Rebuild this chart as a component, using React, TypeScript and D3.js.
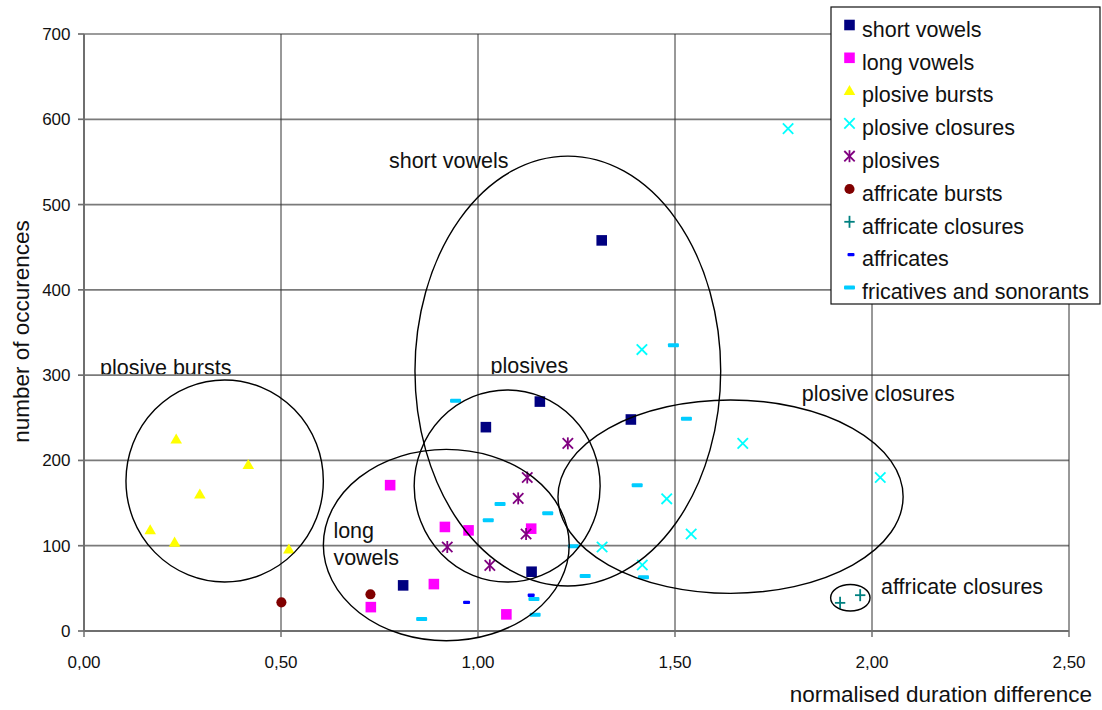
// Scatter of normalised duration difference vs number of occurences, with hand-drawn group ellipses
import React from "react"
import * as d3 from "d3"

const shortVowels = [[1.314, 458], [1.157, 269], [1.02, 239], [1.388, 248], [1.136, 69.5], [0.81, 53.5]]
const longVowels = [[0.777, 171], [0.916, 122], [0.976, 118], [1.135, 120], [0.888, 55], [0.728, 28], [1.072, 19.5]]
const plosiveBursts = [[0.234, 225], [0.417, 195], [0.294, 160.5], [0.168, 118.5], [0.23, 104], [0.52, 96]]
const plosiveClosures = [[1.787, 589], [1.416, 330], [1.672, 220], [2.021, 180], [1.479, 155], [1.541, 113.7], [1.315, 98.5], [1.417, 77.4]]
const plosives = [[1.228, 220], [1.125, 180], [1.102, 155.5], [1.122, 113.7], [0.922, 98.5], [1.03, 77]]
const affricateBursts = [[0.501, 33.6], [0.727, 43]]
const affricateClosures = [[1.919, 33], [1.97, 42]]
const affricates = [[0.971, 33.6], [1.135, 42]]
const fricativesSonorants = [
  [0.943, 270], [1.496, 335], [1.529, 249], [1.056, 149], [1.177, 138], [1.026, 130], [1.404, 171],
  [1.242, 99.3], [1.272, 64.5], [1.42, 63], [1.142, 37.5], [0.857, 14], [1.145, 19],
]

const xTicks = [0, 0.5, 1, 1.5, 2, 2.5]
const yTicks = [0, 100, 200, 300, 400, 500, 600, 700]

// group ellipses: centre and radii in data units
const groupEllipses = [
  { name: "short vowels", cx: 1.228, cy: 304.8, rx: 0.388, ry: 252 },
  { name: "plosives", cx: 1.074, cy: 170, rx: 0.236, ry: 112.6 },
  { name: "long vowels", cx: 0.9195, cy: 100.8, rx: 0.312, ry: 112.2 },
  { name: "plosive closures", cx: 1.641, cy: 157.5, rx: 0.438, ry: 113.4 },
  { name: "plosive bursts", cx: 0.357, cy: 175.9, rx: 0.2505, ry: 118.4 },
  { name: "affricate closures", cx: 1.945, cy: 39, rx: 0.05, ry: 15.6 },
]

const groupLabels = [
  { text: "plosive bursts", x: 0.0406, y: 300, clip: true },
  { text: "short vowels", x: 0.774, y: 542.8, clip: false },
  { text: "plosives", x: 1.032, y: 302, clip: true },
  { text: "long", x: 0.633, y: 109.6, clip: false },
  { text: "vowels", x: 0.633, y: 77.4, clip: false },
  { text: "plosive closures", x: 1.8216, y: 269.6, clip: false },
  { text: "affricate closures", x: 2.0228, y: 43, clip: false },
]

const series = [
  { name: "short vowels", data: shortVowels, color: "#000080", shape: "square" },
  { name: "long vowels", data: longVowels, color: "#FF00FF", shape: "square" },
  { name: "plosive bursts", data: plosiveBursts, color: "#FFFF00", shape: "triangle" },
  { name: "plosive closures", data: plosiveClosures, color: "#00FFFF", shape: "x" },
  { name: "plosives", data: plosives, color: "#800080", shape: "star" },
  { name: "affricate bursts", data: affricateBursts, color: "#800000", shape: "circle" },
  { name: "affricate closures", data: affricateClosures, color: "#008080", shape: "plus" },
  { name: "affricates", data: affricates, color: "#0000FF", shape: "smalldash" },
  { name: "fricatives and sonorants", data: fricativesSonorants, color: "#00CCFF", shape: "dash" },
]

const W = 1102
const H = 710
const font = "'Liberation Sans', Arial, sans-serif"

const x = d3.scaleLinear().domain([0, 2.5]).range([84, 1069])
const y = d3.scaleLinear().domain([0, 700]).range([631, 34])
const fmt = (v: number) => d3.format(".2f")(v).replace(".", ",")

const squarePath = d3.symbol(d3.symbolSquare, 112)()
const trianglePath = d3.symbol(d3.symbolTriangle, 58)()
const circlePath = d3.symbol(d3.symbolCircle, 80)()

function Marker({ shape, color, px, py }: { shape: string; color: string; px: number; py: number }) {
  const t = `translate(${px},${py})`
  if (shape === "square") return <path d={squarePath!} transform={t} fill={color} />
  if (shape === "triangle") return <path d={trianglePath!} transform={`translate(${px},${py + 1})`} fill={color} />
  if (shape === "circle") return <path d={circlePath!} transform={t} fill={color} />
  if (shape === "dash") return <rect x={px - 5.5} y={py - 2} width={11} height={4} rx={1} fill={color} />
  if (shape === "smalldash") return <rect x={px - 3.5} y={py - 1.7} width={7} height={3.4} rx={1} fill={color} />
  const r = 5.2
  return (
    <g transform={t} stroke={color} strokeWidth={1.8} fill="none">
      {(shape === "x" || shape === "star") && (
        <>
          <line x1={-r} y1={-r} x2={r} y2={r} />
          <line x1={-r} y1={r} x2={r} y2={-r} />
        </>
      )}
      {(shape === "star" || shape === "plus") && <line x1={0} y1={-r - 0.8} x2={0} y2={r + 0.8} />}
      {shape === "plus" && <line x1={-r} y1={0} x2={r} y2={0} />}
    </g>
  )
}

export default function App() {
  const legendX = 831
  const legendY = 7
  const rowH = 32.8

  return (
    <svg width={W} height={H} style={{ position: "absolute", left: 0, top: 0, display: "block" }} fontFamily={font}>
      <defs>
        <clipPath id="aboveGrid">
          <rect x={0} y={0} width={W} height={y(300) - 1} />
        </clipPath>
      </defs>
      <rect width={W} height={H} fill="#fff" />

      {/* gridlines */}
      {yTicks.map(t => (
        <line key={"gy" + t} x1={x(0)} x2={x(2.5)} y1={y(t)} y2={y(t)} stroke="#7a7a7a" strokeWidth={1.7} />
      ))}
      {xTicks.map(t => (
        <line key={"gx" + t} x1={x(t)} x2={x(t)} y1={y(700)} y2={y(0)} stroke="#333" strokeWidth={1} />
      ))}

      {/* axes */}
      <line x1={x(0)} x2={x(0)} y1={y(700)} y2={y(0)} stroke="#6f6f6f" strokeWidth={2} />
      <line x1={x(0)} x2={x(2.5)} y1={y(0)} y2={y(0)} stroke="#6f6f6f" strokeWidth={2} />
      {yTicks.map(t => (
        <g key={"ty" + t}>
          <line x1={x(0) - 6} x2={x(0)} y1={y(t)} y2={y(t)} stroke="#6f6f6f" strokeWidth={1.7} />
          <text x={70.5} y={y(t) + 6} textAnchor="end" fontSize={17} fill="#111">
            {t}
          </text>
        </g>
      ))}
      {xTicks.map(t => (
        <g key={"tx" + t}>
          <line x1={x(t)} x2={x(t)} y1={y(0)} y2={y(0) + 6} stroke="#6f6f6f" strokeWidth={1.5} />
          <text x={x(t)} y={668} textAnchor="middle" fontSize={17} fill="#111">
            {fmt(t)}
          </text>
        </g>
      ))}

      <text x={1092} y={702} textAnchor="end" fontSize={22.5} fill="#111">
        normalised duration difference
      </text>
      <text transform={`translate(29,${y(350) - 1}) rotate(-90)`} textAnchor="middle" fontSize={22.5} fill="#111">
        number of occurences
      </text>

      {/* points */}
      {series.map(s => (
        <g key={s.name}>
          {s.data.map((d, i) => (
            <Marker key={i} shape={s.shape} color={s.color} px={x(d[0])} py={y(d[1])} />
          ))}
        </g>
      ))}

      {/* group ellipses */}
      {groupEllipses.map(e => (
        <ellipse
          key={e.name}
          cx={x(e.cx)}
          cy={y(e.cy)}
          rx={x(e.cx + e.rx) - x(e.cx)}
          ry={y(e.cy - e.ry) - y(e.cy)}
          fill="none"
          stroke="#000"
          strokeWidth={1.4}
        />
      ))}

      {groupLabels.map(l => (
        <text
          key={l.text}
          x={x(l.x)}
          y={y(l.y)}
          fontSize={21.5}
          fill="#111"
          clipPath={l.clip ? "url(#aboveGrid)" : undefined}
        >
          {l.text}
        </text>
      ))}

      {/* legend */}
      <rect x={legendX} y={legendY} width={269} height={297} fill="#fff" stroke="#111" strokeWidth={1.2} />
      {series.map((s, i) => (
        <g key={"lg" + s.name}>
          <Marker shape={s.shape} color={s.color} px={849.5 + (s.shape === "smalldash" ? 1.5 : 0)} py={25 + i * rowH} />
          <text x={862} y={36.7 + i * rowH} fontSize={21.5} fill="#111">
            {s.name}
          </text>
        </g>
      ))}
    </svg>
  )
}
